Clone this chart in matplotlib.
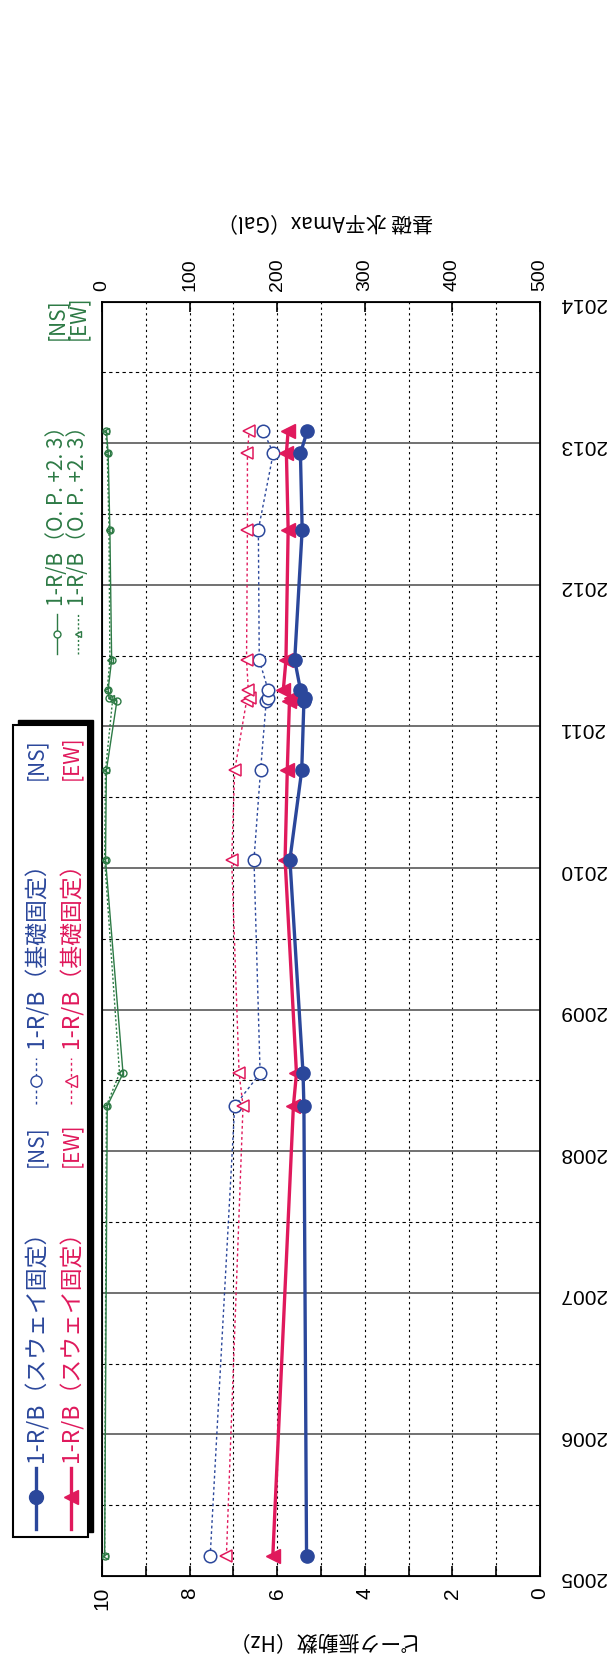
import matplotlib
matplotlib.use("Agg")
import matplotlib.pyplot as plt
from matplotlib.lines import Line2D
from matplotlib.patches import Rectangle

# observation dates (decimal years) shared by every series
dates = [2005.14, 2008.32, 2008.55, 2010.06, 2010.69, 2011.18, 2011.20,
         2011.26, 2011.47, 2012.39, 2012.93, 2013.09]

# peak frequency (Hz)
sway_ns = [5.33, 5.39, 5.41, 5.71, 5.44, 5.39, 5.37, 5.47, 5.60, 5.43, 5.47, 5.31]
sway_ew = [6.10, 5.63, 5.56, 5.82, 5.77, 5.72, 5.68, 5.86, 5.80, 5.75, 5.79, 5.75]
base_ns = [7.53, 6.97, 6.39, 6.53, 6.38, 6.25, 6.20, 6.21, 6.41, 6.43, 6.09, 6.32]
base_ew = [7.16, 6.78, 6.87, 7.04, 6.97, 6.70, 6.62, 6.66, 6.70, 6.68, 6.68, 6.64]

# foundation horizontal Amax (Gal)
amax_ns = [3, 6, 24, 4, 5, 17, 8, 7, 11, 9, 7, 5]
amax_ew = [3, 5, 20, 3, 4, 12, 10, 6, 9, 8, 6, 4]

years = list(range(2005, 2015))
hz_ticks = [0, 2, 4, 6, 8, 10]
gal_ticks = [0, 100, 200, 300, 400, 500]

BLUE = "#2b479b"
RED = "#e0195c"
GREEN = "#2d7a45"
JP = ["Noto Sans CJK JP", "DejaVu Sans"]
NUM = ["Liberation Sans", "DejaVu Sans"]

W_PX, H_PX = 607, 1664


def fx(x):
    return x / W_PX


def fy(y):
    return 1 - y / H_PX


fig = plt.figure(figsize=(W_PX / 100, H_PX / 100), dpi=100)
ax = fig.add_axes([fx(102), fy(1576), fx(540) - fx(102), fy(301.7) - fy(1576)])

ax.set_xlim(10, 0)
ax.set_ylim(2005, 2014)

# grid
for hz in range(1, 10):
    ax.axvline(hz, color="black", lw=0.8, ls=(0, (2, 3)), zorder=1)
for yr in years[1:-1]:
    ax.axhline(yr, color="#666666", lw=1.3, zorder=1)
for yr in years[:-1]:
    ax.axhline(yr + 0.5, color="black", lw=0.8, ls=(0, (3, 3)), zorder=1)

# frequency series
ax.plot(base_ns, dates, color=BLUE, lw=1.0, ls=(0, (2, 2)), marker="o",
        ms=9, mfc="white", mec=BLUE, mew=1.1, zorder=3)
ax.plot(base_ew, dates, color=RED, lw=1.0, ls=(0, (2, 2)), marker="<",
        ms=9, mfc="white", mec=RED, mew=1.1, zorder=3)
ax.plot(sway_ew, dates, color=RED, lw=2.4, marker="<", ms=10,
        mfc=RED, mec=RED, zorder=4)
ax.plot(sway_ns, dates, color=BLUE, lw=2.4, marker="o", ms=9.5,
        mfc=BLUE, mec=BLUE, zorder=5)

ax.set_xticks(hz_ticks)
ax.set_xticks(range(0, 11), minor=True)
ax.set_xticklabels([str(t) for t in hz_ticks], rotation=90, fontsize=15,
                   family=NUM)
ax.tick_params(axis="x", which="both", direction="in", length=7, width=1.2, pad=8)
ax.yaxis.tick_right()
ax.set_yticks(years)
ax.set_yticklabels([str(y) for y in years], rotation=180, fontsize=15,
                   family=NUM)
ax.tick_params(axis="y", length=0, pad=14)
for s in ax.spines.values():
    s.set_linewidth(1.3)

# Amax on a twin axis
ax2 = ax.twiny()
ax2.set_xlim(0, 500)
ax2.plot(amax_ns, dates, color=GREEN, lw=1.0, marker="o", ms=5,
         mfc="none", mec=GREEN, mew=1.0, zorder=3)
ax2.plot(amax_ew, dates, color=GREEN, lw=1.0, ls=(0, (1.5, 1.5)), marker="<",
         ms=5, mfc="none", mec=GREEN, mew=1.0, zorder=3)
ax2.set_xticks(gal_ticks)
ax2.set_xticklabels([str(t) for t in gal_ticks], rotation=90, fontsize=14,
                    family=NUM)
ax2.tick_params(axis="x", direction="in", length=7, width=1.2, pad=8)

# axis titles
fig.text(fx(318), fy(1640), "ピーク振動数（Hz）", rotation=180, fontsize=15,
         family=JP, ha="center", va="center")
fig.text(fx(325), fy(221), "基礎 水平Amax（Gal）", rotation=180, fontsize=15,
         family=JP, ha="center", va="center")

# boxed legend (rotated)
fig.add_artist(Rectangle((fx(18), fy(1532)), fx(75), fy(720) - fy(1532),
                         transform=fig.transFigure, facecolor="black",
                         edgecolor="black", zorder=5))
fig.add_artist(Rectangle((fx(13), fy(1537)), fx(75), fy(725) - fy(1537),
                         transform=fig.transFigure, facecolor="white",
                         edgecolor="black", lw=1.5, zorder=6))

rows = [
    (36, BLUE, "o", "[NS]"),
    (71, RED, "<", "[EW]"),
]
for x, c, m, tag in rows:
    fig.add_artist(Line2D([fx(x), fx(x)], [fy(1529), fy(1468)], color=c, lw=2.4,
                          transform=fig.transFigure, zorder=7))
    fig.add_artist(Line2D([fx(x)], [fy(1497)], color=c, marker=m, ms=10,
                          mfc=c, mec=c, transform=fig.transFigure, zorder=7))
    fig.text(fx(x), fy(1462), "1-R/B（スウェイ固定）", rotation=90, color=c,
             fontsize=16.5, family=JP, ha="left", va="center",
             rotation_mode="anchor", zorder=7)
    fig.text(fx(x), fy(1167), tag, rotation=90, color=c, fontsize=15,
             family=JP, ha="left", va="center", rotation_mode="anchor", zorder=7)
    fig.add_artist(Line2D([fx(x), fx(x)], [fy(1104), fy(1058)], color=c, lw=1.0,
                          ls=(0, (2, 2)), transform=fig.transFigure, zorder=7))
    fig.add_artist(Line2D([fx(x)], [fy(1081)], color=c, marker=m, ms=8,
                          mfc="white", mec=c, mew=1.0,
                          transform=fig.transFigure, zorder=7))
    fig.text(fx(x), fy(1048), "1-R/B（基礎固定）", rotation=90, color=c,
             fontsize=16.5, family=JP, ha="left", va="center",
             rotation_mode="anchor", zorder=7)
    fig.text(fx(x), fy(780), tag, rotation=90, color=c, fontsize=15,
             family=JP, ha="left", va="center", rotation_mode="anchor", zorder=7)

# Amax legend (left of the plot, above the box)
green_rows = [
    (57, "-", "o", "[NS]"),
    (78, (0, (1.5, 1.5)), "<", "[EW]"),
]
for x, ls, m, tag in green_rows:
    fig.add_artist(Line2D([fx(x), fx(x)], [fy(654), fy(614)], color=GREEN,
                          lw=1.0, ls=ls, transform=fig.transFigure))
    fig.add_artist(Line2D([fx(x)], [fy(634)], color=GREEN, marker=m, ms=5,
                          mfc="white", mec=GREEN, transform=fig.transFigure))
    fig.text(fx(x), fy(606), "1-R/B（O. P. +2. 3）", rotation=90, color=GREEN,
             fontsize=15, family=JP, ha="left", va="center",
             rotation_mode="anchor")
    fig.text(fx(x), fy(340), tag, rotation=90, color=GREEN, fontsize=15,
             family=JP, ha="left", va="center", rotation_mode="anchor")

fig.savefig("out.png", dpi=100)
